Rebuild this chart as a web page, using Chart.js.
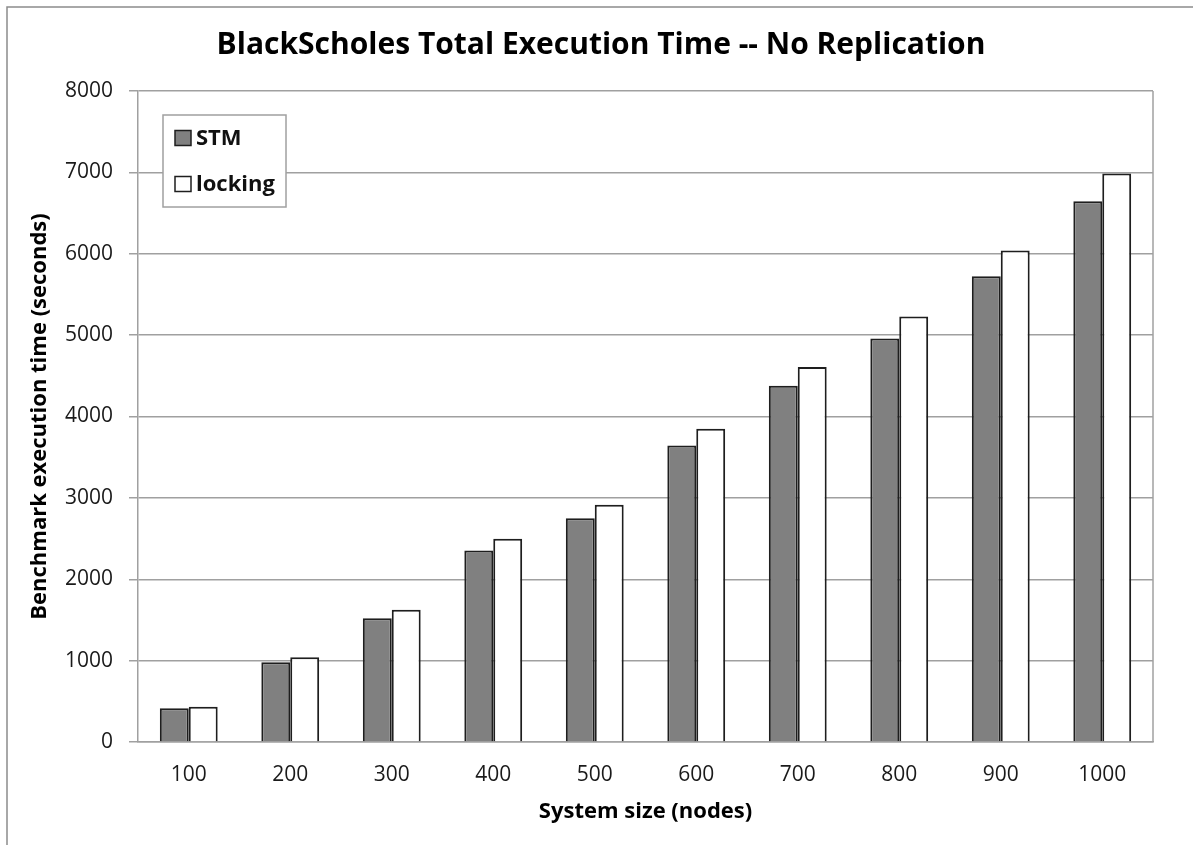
<!DOCTYPE html>
<html>
<head>
<meta charset="utf-8">
<script src="https://cdn.jsdelivr.net/npm/chart.js@4/dist/chart.umd.min.js"></script>
<style>
  html, body { margin: 0; padding: 0; background: #fff; }
  #wrap { width: 1193px; height: 845px; position: relative; }
</style>
</head>
<body>
<div id="wrap"><canvas id="c" width="1193" height="845"></canvas></div>
<script>
// System sizes (nodes) and total execution times (seconds)
const nodeCounts = ['100', '200', '300', '400', '500', '600', '700', '800', '900', '1000'];
const stmTimes = [414, 980, 1521, 2353, 2751, 3645, 4379, 4957, 5723, 6646];
const lockingTimes = [434, 1042, 1624, 2497, 2915, 3850, 4609, 5228, 6039, 6986];
const yTicks = [0, 1000, 2000, 3000, 4000, 5000, 6000, 7000, 8000];
const chartTitle = 'BlackScholes Total Execution Time -- No Replication';

const FONT = "'Open Sans', 'DejaVu Sans', sans-serif";
const GRID = '#a0a0a0';

// Figure frame, heading, and the right edge of the plot area
const framePlugin = {
  id: 'frame',
  beforeDraw(chart) {
    const ctx = chart.ctx;
    ctx.save();
    ctx.strokeStyle = '#8c8c8c';
    ctx.lineWidth = 1.5;
    ctx.beginPath();
    ctx.moveTo(7, 845);
    ctx.lineTo(7, 7);
    ctx.lineTo(1193, 7);
    ctx.stroke();
    ctx.fillStyle = '#000';
    ctx.font = 'bold 30px ' + FONT;
    ctx.textAlign = 'center';
    ctx.textBaseline = 'middle';
    ctx.fillText(chartTitle, 601, 45);
    ctx.restore();
  },
  afterDatasetsDraw(chart) {
    const { ctx, chartArea } = chart;
    ctx.save();
    ctx.strokeStyle = GRID;
    ctx.lineWidth = 1.5;
    ctx.beginPath();
    ctx.moveTo(chartArea.right, chartArea.top);
    ctx.lineTo(chartArea.right, chartArea.bottom);
    ctx.stroke();
    ctx.restore();
  }
};

// Boxed legend sitting inside the plot area, top-left
const insetLegend = {
  id: 'insetLegend',
  afterDraw(chart) {
    const ctx = chart.ctx;
    const x = 163, y = 115, w = 123, h = 92;
    ctx.save();
    ctx.fillStyle = '#fff';
    ctx.fillRect(x, y, w, h);
    ctx.strokeStyle = GRID;
    ctx.lineWidth = 1.5;
    ctx.strokeRect(x, y, w, h);
    ctx.font = 'bold 22px ' + FONT;
    ctx.textBaseline = 'middle';
    chart.data.datasets.forEach((ds, i) => {
      const cy = y + 23 + i * 46;
      ctx.fillStyle = ds.backgroundColor;
      ctx.fillRect(x + 12, cy - 7.5, 16, 15);
      ctx.strokeStyle = ds.borderColor;
      ctx.lineWidth = 1.5;
      ctx.strokeRect(x + 12, cy - 7.5, 16, 15);
      ctx.fillStyle = '#111';
      ctx.fillText(ds.label, x + 33, cy + 1);
    });
    ctx.restore();
  }
};

new Chart(document.getElementById('c'), {
  type: 'bar',
  data: {
    labels: nodeCounts,
    datasets: [
      {
        label: 'STM',
        data: stmTimes,
        backgroundColor: '#808080',
        borderColor: '#1e1e1e',
        borderWidth: 2
      },
      {
        label: 'locking',
        data: lockingTimes,
        backgroundColor: '#ffffff',
        borderColor: '#1e1e1e',
        borderWidth: 2
      }
    ]
  },
  options: {
    responsive: false,
    animation: false,
    events: [],
    layout: { padding: { left: 0, right: 40, top: 91, bottom: 0 } },
    categoryPercentage: 0.57,
    barPercentage: 1.0,
    plugins: {
      legend: { display: false },
      tooltip: { enabled: false },
      title: { display: false }
    },
    scales: {
      x: {
        grid: { display: false, drawTicks: false },
        border: { display: true, color: GRID, width: 1.5 },
        ticks: {
          color: '#1a1a1a',
          padding: 20,
          maxRotation: 0,
          font: { family: FONT, size: 21 }
        },
        title: {
          display: true,
          text: 'System size (nodes)',
          color: '#000',
          font: { family: FONT, size: 22, weight: 'bold', lineHeight: 1.2 },
          padding: { top: 0, bottom: 20 }
        },
        afterFit(scale) { scale.height = 103; }
      },
      y: {
        min: 0,
        max: 8000,
        afterBuildTicks(scale) { scale.ticks = yTicks.map(v => ({ value: v })); },
        grid: { color: GRID, lineWidth: 1.5, drawTicks: true, tickLength: 9 },
        border: { display: true, color: GRID, width: 1.5 },
        ticks: {
          color: '#1a1a1a',
          padding: 16,
          font: { family: FONT, size: 21 },
          callback: v => String(v)
        },
        title: {
          display: true,
          text: 'Benchmark execution time (seconds)',
          color: '#000',
          font: { family: FONT, size: 22, weight: 'bold', lineHeight: 1.2 },
          padding: { top: 27, bottom: 0 }
        },
        afterFit(scale) { scale.width = 138; }
      }
    }
  },
  plugins: [framePlugin, insetLegend]
});
</script>
</body>
</html>
